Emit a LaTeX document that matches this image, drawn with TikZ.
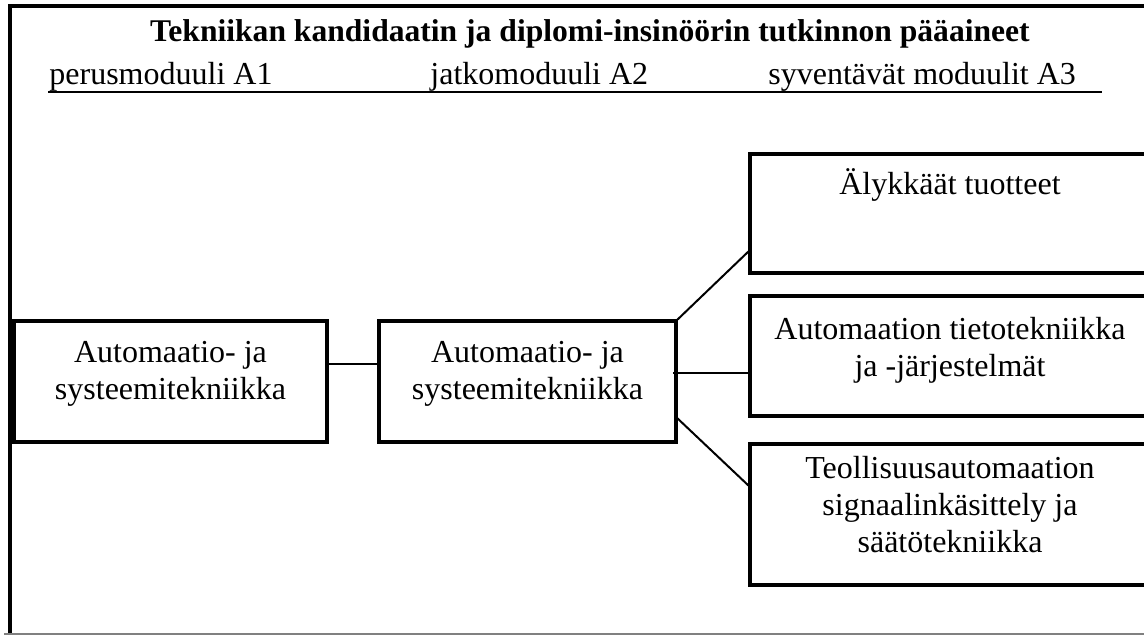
\documentclass[tikz,border=0pt]{standalone}
\usepackage{fontspec}
\setmainfont{Liberation Serif}
\usetikzlibrary{calc}
\newcommand\mlines[1]{\vtop{\baselineskip=18.5pt\halign{\hfil##\hfil\cr#1\crcr}}}
\begin{document}
\begin{tikzpicture}[x=0.5pt,y=-0.5pt,
  box/.style={draw, line width=2pt, inner sep=0pt, outer sep=0pt},
  txt/.style={anchor=base, inner sep=0pt, font=\fontsize{16pt}{18.5pt}\selectfont},
  sub/.style={anchor=base west, inner sep=0pt, font=\fontsize{16pt}{18.5pt}\selectfont},
  conn/.style={line width=1pt}]
\useasboundingbox (0,0) rectangle (1144,635);
\begin{scope}
\clip (0,0) rectangle (1144,635);
% frame
\draw[line width=2pt] (10,634) -- (10,6.5) -- (1144,6.5);
\draw[gray, line width=0.7pt] (4,634) -- (1144,634);
% header
\node[anchor=base, inner sep=0pt, font=\bfseries\fontsize{15.8pt}{18pt}\selectfont] (title) at (590,42) {Tekniikan kandidaatin ja diplomi-insinöörin tutkinnon pääaineet};
\node[sub] (s1) at (49,85) {perusmoduuli A1};
\node[sub] (s2) at (430,85) {jatkomoduuli A2};
\node[sub] (s3) at (768,85) {syventävät moduulit A3};
\draw[line width=1pt] (48,92) -- (1102,92);
% boxes
\node[box, minimum width=156.5pt, minimum height=60.5pt] (A) at (170.5,381.5) {};
\node[box, minimum width=148.5pt, minimum height=60.5pt] (B) at (527.5,381.5) {};
\node[box, minimum width=200pt, minimum height=59.5pt] (C1) at (950,213.5) {};
\node[box, minimum width=200pt, minimum height=60pt] (C2) at (950,356) {};
\node[box, minimum width=200pt, minimum height=70.5pt] (C3) at (950,514.5) {};
% texts
\node[txt] (tA) at (170.5,363) {\mlines{Automaatio- ja\cr systeemitekniikka}};
\node[txt] (tB) at (527.5,363) {\mlines{Automaatio- ja\cr systeemitekniikka}};
\node[txt] (tC1) at (950,195) {Älykkäät tuotteet};
\node[txt] (tC2) at (950,340) {\mlines{Automaation tietotekniikka\cr ja -järjestelmät}};
\node[txt] (tC3) at (950,478) {\mlines{Teollisuusautomaation\cr signaalinkäsittely ja\cr säätötekniikka}};
% connectors
\coordinate (a1) at ($(A.east)+(0,-17.5)$);
\draw[conn] (a1) -- (a1 -| B.west);
\draw[conn] (B.north east) -- ($(C1.west)+(0,36.5)$);
\coordinate (b2) at ($(B.east)+(-3,-8.5)$);
\draw[conn] (b2) -- (b2 -| C2.west);
\draw[conn] ($(B.east)+(0,35.5)$) -- ($(C3.west)+(0,-27.5)$);
\end{scope}
\end{tikzpicture}
\end{document}
